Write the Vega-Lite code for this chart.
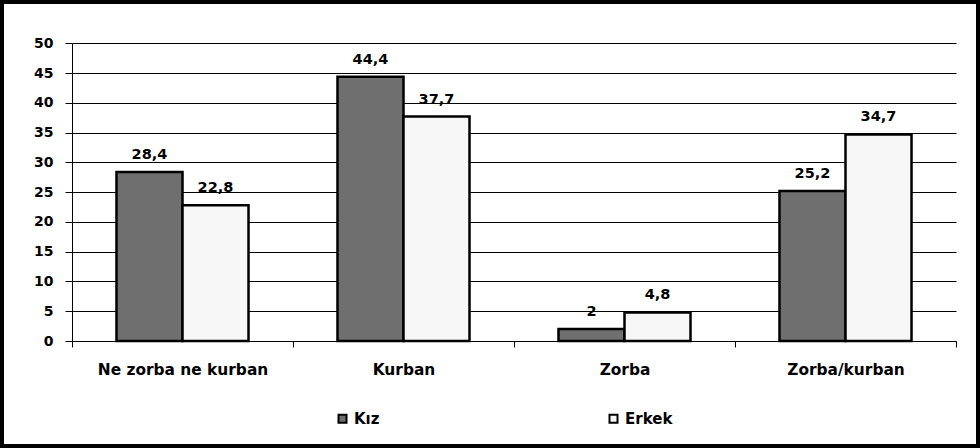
{
  "$schema": "https://vega.github.io/schema/vega-lite/v6.json",
  "width": 976,
  "height": 444,
  "autosize": {"type": "none"},
  "padding": {"left": 2, "top": 2, "right": 2, "bottom": 2},
  "background": "white",
  "config": {
    "view": {"stroke": "black", "strokeWidth": 4, "fill": "white"},
    "font": "DejaVu Sans",
    "locale": {"number": {"decimal": ",", "thousands": ".", "grouping": [3], "currency": ["", " €"]}}
  },
  "data": {
    "values": [
      {"kategori": "Ne zorba ne kurban", "cinsiyet": "Kız", "deger": 28.4},
      {"kategori": "Ne zorba ne kurban", "cinsiyet": "Erkek", "deger": 22.8},
      {"kategori": "Kurban", "cinsiyet": "Kız", "deger": 44.4},
      {"kategori": "Kurban", "cinsiyet": "Erkek", "deger": 37.7},
      {"kategori": "Zorba", "cinsiyet": "Kız", "deger": 2},
      {"kategori": "Zorba", "cinsiyet": "Erkek", "deger": 4.8},
      {"kategori": "Zorba/kurban", "cinsiyet": "Kız", "deger": 25.2},
      {"kategori": "Zorba/kurban", "cinsiyet": "Erkek", "deger": 34.7}
    ]
  },
  "encoding": {
    "x": {
      "field": "kategori", "type": "nominal",
      "sort": ["Ne zorba ne kurban", "Kurban", "Zorba", "Zorba/kurban"],
      "scale": {"range": [70, 954], "paddingInner": 0, "paddingOuter": 0},
      "axis": {
        "orient": "bottom", "offset": -105, "title": null, "grid": false,
        "tickBand": "extent", "labelAngle": 0,
        "domainColor": "black", "domainWidth": 1,
        "tickColor": "black", "tickSize": 6, "tickWidth": 1,
        "labelFont": "DejaVu Sans", "labelFontWeight": "bold", "labelFontSize": 15.4,
        "labelColor": "black", "labelPadding": 15, "labelBaseline": "top"
      }
    },
    "xOffset": {
      "field": "cinsiyet", "type": "nominal", "sort": ["Kız", "Erkek"],
      "scale": {"paddingInner": 0, "paddingOuter": 0.674}
    },
    "y": {
      "field": "deger", "type": "quantitative",
      "scale": {"domain": [0, 50], "range": [339, 41.3], "nice": false, "zero": true},
      "axis": {
        "orient": "left", "offset": -70, "title": null,
        "values": [0, 5, 10, 15, 20, 25, 30, 35, 40, 45, 50],
        "grid": true, "gridColor": "black", "gridWidth": 1, "gridOpacity": 1,
        "domainColor": "black", "domainWidth": 1,
        "tickColor": "black", "tickSize": 7, "tickWidth": 1,
        "labelFont": "DejaVu Sans", "labelFontWeight": "bold", "labelFontSize": 14,
        "labelColor": "black", "labelPadding": 12, "format": "d"
      }
    }
  },
  "layer": [
    {
      "mark": {"type": "bar", "stroke": "black", "strokeWidth": 2.5, "opacity": 1},
      "encoding": {
        "color": {
          "field": "cinsiyet", "type": "nominal",
          "scale": {"domain": ["Kız", "Erkek"], "range": ["#6f6f6f", "#f7f7f7"]},
          "legend": {
            "orient": "none", "legendX": 333, "legendY": 409,
            "direction": "horizontal", "columns": 2, "columnPadding": 225,
            "title": null, "padding": 0,
            "symbolType": "square", "symbolSize": 64,
            "symbolStrokeColor": "black", "symbolStrokeWidth": 2,
            "labelFont": "DejaVu Sans", "labelFontWeight": "bold", "labelFontSize": 15,
            "labelColor": "black", "labelOffset": 4
          }
        }
      }
    },
    {
      "mark": {"type": "text", "font": "DejaVu Sans", "fontWeight": "bold", "fontSize": 14.5, "baseline": "alphabetic", "dy": -13, "color": "black"},
      "encoding": {
        "text": {"field": "deger", "type": "quantitative", "format": ".1~f"}
      }
    }
  ]
}
